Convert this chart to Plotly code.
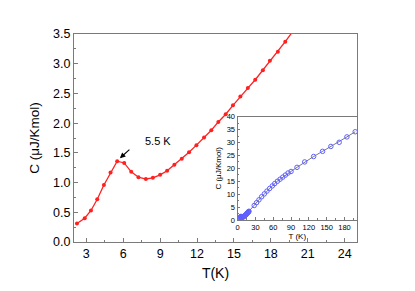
import plotly.graph_objects as go

# Main panel data: T (K) and C (uJ/Kmol)
T_main = [2.24, 2.87, 3.38, 3.89, 4.43, 4.97, 5.51, 6.08, 6.65, 7.24, 7.84, 8.41,
          9.00, 9.57, 10.16, 10.76, 11.35, 11.95, 12.57, 13.16, 13.73, 14.33,
          14.92, 15.52, 16.13, 16.73, 17.35, 17.92, 18.57, 19.17, 19.77]
C_main = [0.31, 0.40, 0.53, 0.72, 0.96, 1.17, 1.36, 1.33, 1.18, 1.09, 1.06, 1.08,
          1.13, 1.20, 1.30, 1.40, 1.51, 1.63, 1.76, 1.88, 2.02, 2.15,
          2.30, 2.45, 2.59, 2.73, 2.89, 3.05, 3.20, 3.37, 3.54]

# Inset data (high temperature part)
T_inset_high = [28, 32, 36, 40.5, 45, 49.5, 54, 58.5, 62.5, 67, 71.5, 76, 80.5, 85,
                90, 100, 113, 128, 143, 157, 171, 184, 198]
C_inset_high = [5.6, 6.7, 7.8, 9.0, 10.1, 11.2, 12.2, 13.2, 14.1, 15.0, 15.8, 16.6,
                17.4, 18.2, 18.8, 20.4, 22.5, 24.6, 26.6, 28.5, 30.1, 32.2, 34.2]

T_inset = T_main[:-1] + T_inset_high
C_inset = C_main[:-1] + C_inset_high

x_ticks = [3, 6, 9, 12, 15, 18, 21, 24]
y_ticks = [0.0, 0.5, 1.0, 1.5, 2.0, 2.5, 3.0, 3.5]
inset_x_ticks = [0, 30, 60, 90, 120, 150, 180]
inset_y_ticks = [0, 5, 10, 15, 20, 25, 30, 35, 40]

FONT = "Liberation Sans, Arial, sans-serif"
AXC = "#7a7a7a"

fig = go.Figure()
fig.add_trace(go.Scatter(
    x=T_main, y=C_main, mode="lines+markers",
    line=dict(color="#ff2020", width=1.3),
    marker=dict(color="#ff2020", size=4),
    xaxis="x", yaxis="y", cliponaxis=True, showlegend=False))

fig.add_trace(go.Scatter(
    x=T_inset, y=C_inset, mode="lines+markers",
    line=dict(color="#555555", width=0.8),
    marker=dict(symbol="circle-open", color="#6060ff", size=4.5, line=dict(width=1)),
    xaxis="x2", yaxis="y2", showlegend=False))

fig.update_layout(
    width=415, height=291,
    margin=dict(l=66, r=66, t=26, b=57),
    paper_bgcolor="white", plot_bgcolor="white",
    font=dict(family=FONT, color="black"),
    xaxis=dict(
        domain=[0, 1], range=[2, 25], tickvals=x_ticks,
        ticktext=[str(v) for v in x_ticks],
        ticks="inside", ticklen=4, tickcolor=AXC, tickwidth=1,
        minor=dict(dtick=1.5, tick0=0, ticks="inside", ticklen=2, tickcolor=AXC),
        showline=True, linecolor=AXC, linewidth=1.3, mirror=True,
        showgrid=False, zeroline=False,
        tickfont=dict(size=12.5),
        title=dict(text="T(K)", font=dict(size=14), standoff=8),
    ),
    yaxis=dict(
        domain=[0, 1], range=[0, 3.5], tickvals=y_ticks,
        ticktext=[f"{v:.1f}" for v in y_ticks],
        ticks="inside", ticklen=4, tickcolor=AXC, tickwidth=1,
        minor=dict(dtick=0.25, tick0=0, ticks="inside", ticklen=2, tickcolor=AXC),
        showline=True, linecolor=AXC, linewidth=1.3, mirror=True,
        showgrid=False, zeroline=False,
        tickfont=dict(size=12.5),
        title=dict(text="C (μJ/Kmol)", font=dict(size=13.5), standoff=10),
    ),
    xaxis2=dict(
        domain=[0.578, 1], anchor="y2", range=[0, 201], tickvals=inset_x_ticks,
        ticks="inside", ticklen=2.5, tickcolor=AXC,
        minor=dict(dtick=15, tick0=0, ticks="inside", ticklen=1.5, tickcolor=AXC),
        showline=True, linecolor=AXC, linewidth=1.2, mirror=True,
        showgrid=False, zeroline=False,
        tickfont=dict(size=7.5),
        title=dict(text="T (K)", font=dict(size=8), standoff=2),
    ),
    yaxis2=dict(
        domain=[0.106, 0.602], anchor="x2", range=[0, 40], tickvals=inset_y_ticks,
        ticks="inside", ticklen=2.5, tickcolor=AXC,
        minor=dict(dtick=2.5, tick0=0, ticks="inside", ticklen=1.5, tickcolor=AXC),
        showline=True, linecolor=AXC, linewidth=1.2, mirror=True,
        showgrid=False, zeroline=False,
        tickfont=dict(size=7.5),
        title=dict(text="C (μJ/Kmol)", font=dict(size=8), standoff=3),
    ),
    annotations=[
        dict(x=5.73, y=1.41, xref="x", yref="y", text="", showarrow=True,
             ax=11, ay=-10, arrowhead=2, arrowsize=1, arrowwidth=1.1,
             arrowcolor="black"),
        dict(x=8.8, y=1.70, xref="x", yref="y", text="5.5 K", showarrow=False,
             font=dict(size=11)),
    ],
)

fig.write_html("out.html")
